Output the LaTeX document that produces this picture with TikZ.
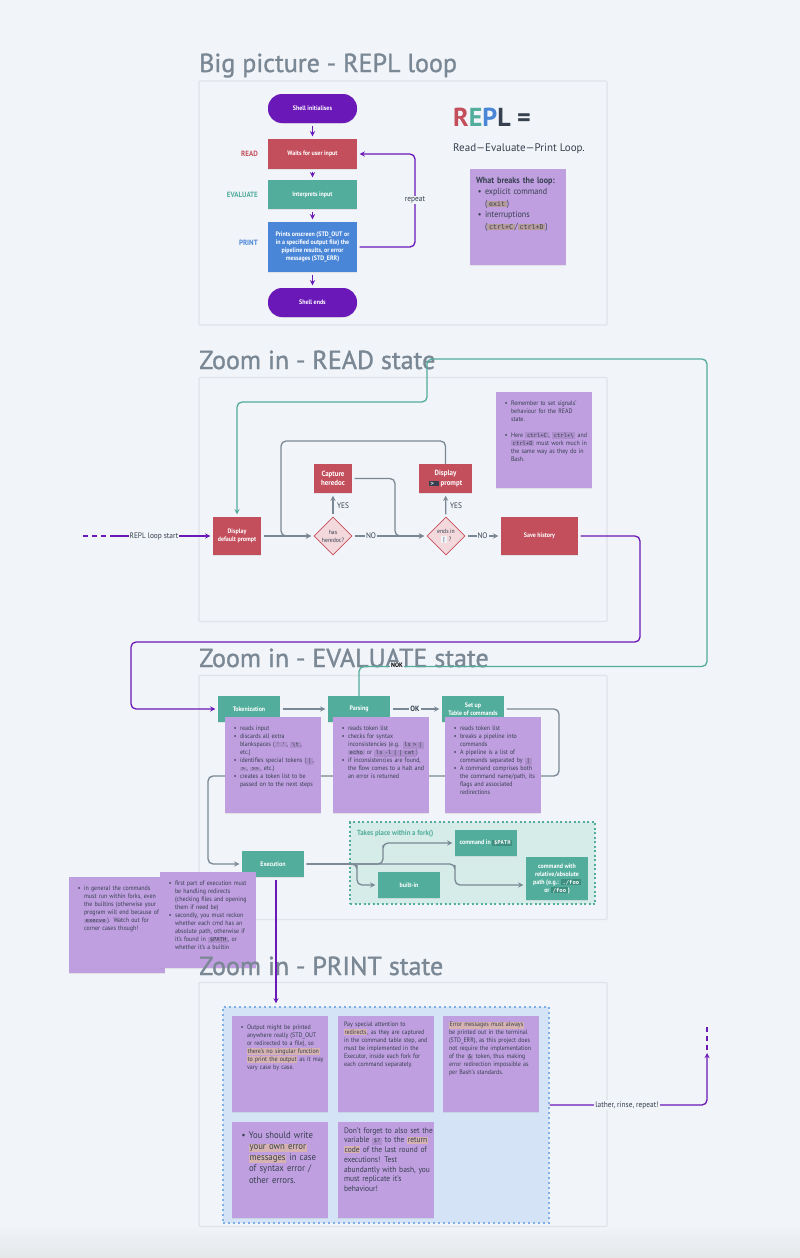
\documentclass[tikz,border=0pt]{standalone}
\usepackage{fontspec}
\setmainfont{PT Sans}[FakeStretch=0.92]
\setmonofont{DejaVu Sans Mono}
\newfontfamily\titlefont{PT Sans}[FakeBold=1.2]
\newfontfamily\widefont{PT Sans}
\usetikzlibrary{shapes.geometric, arrows.meta, positioning, shadows}
\definecolor{bgcol}{HTML}{F1F4F8}
\definecolor{framecol}{HTML}{DFE3EA}
\definecolor{titlecol}{HTML}{7A8794}
\definecolor{inkcol}{HTML}{36404F}
\definecolor{redcol}{HTML}{C44F5C}
\definecolor{pinkcol}{HTML}{F3D8DC}
\definecolor{tealcol}{HTML}{52AD9C}
\definecolor{bluecol}{HTML}{4A86D8}
\definecolor{violetcol}{HTML}{6A18B8}
\definecolor{stickycol}{HTML}{BF9FE0}
\definecolor{chipcol}{HTML}{AC8FCB}
\definecolor{warmcol}{HTML}{B79C9C}
\definecolor{hlcol}{HTML}{D6B3B0}
\definecolor{darkchip}{HTML}{3F8F80}
\definecolor{forkcol}{HTML}{D6ECE8}
\definecolor{printcol}{HTML}{D4E3F5}
\definecolor{printedge}{HTML}{7FAEE8}
\definecolor{bottomcol}{HTML}{E4E7EA}
\tikzstyle{panel} = [rectangle, draw=framecol, line width=1.2pt, fill=bgcol, rounded corners=1pt, minimum width=408pt, minimum height=244pt, inner sep=0pt]
\tikzstyle{heading} = [anchor=base west, inner sep=0pt, text=titlecol, font=\fontsize{26}{26}\titlefont]
\tikzstyle{block} = [rectangle, text=white, text centered, inner sep=0pt, font=\fontsize{6.5}{8}\selectfont\bfseries, drop shadow={opacity=0.15, shadow xshift=0pt, shadow yshift=-0.8pt}]
\tikzstyle{terminal} = [block, fill=violetcol, rounded corners=14pt, minimum width=89pt, minimum height=29pt]
\tikzstyle{redblock} = [block, fill=redcol]
\tikzstyle{tealblock} = [block, fill=tealcol, minimum width=62pt, minimum height=26pt]
\tikzstyle{check} = [diamond, aspect=1, draw=redcol, fill=pinkcol, line width=0.7pt, inner sep=0pt, minimum width=38pt, minimum height=38pt, text=inkcol, text centered, font=\fontsize{6.2}{8}\selectfont]
\tikzstyle{sticky} = [rectangle, fill=stickycol, minimum width=96pt, minimum height=96pt, inner sep=0pt, drop shadow={opacity=0.15, shadow xshift=0pt, shadow yshift=-0.8pt}]
\tikzstyle{stickytext} = [anchor=north west, inner sep=0pt, text width=110pt, align=left, text=inkcol, xshift=6pt, yshift=-5.5pt, font=\fontsize{6.5}{8}\selectfont]
\tikzstyle{sidelabel} = [anchor=east, inner sep=0pt, font=\fontsize{7.6}{8}\selectfont\bfseries]
\tikzstyle{linelabel} = [fill=bgcol, inner sep=1pt, text=inkcol, font=\fontsize{8}{8}\selectfont]
\tikzstyle{arrow} = [line width=1.3pt, draw=titlecol, ->, >=stealth, shorten <=2.5pt, shorten >=2.5pt, rounded corners=5pt]
\tikzstyle{purplearrow} = [arrow, draw=violetcol]
\tikzstyle{tealarrow} = [arrow, draw=tealcol]
\tikzstyle{dashline} = [violetcol, line width=1.3pt, dash pattern=on 5pt off 4pt]
\newcommand{\chipsize}{5.5}
\newcommand{\codechip}[2][chipcol]{{\setlength{\fboxsep}{0.8pt}\colorbox{#1}{\ttfamily\fontsize{\chipsize}{5}\selectfont\,#2\,}}}
\newcommand{\marked}[1]{{\setlength{\fboxsep}{0.6pt}\colorbox{hlcol}{#1}}}
\newcommand{\bulleted}[1]{\par\noindent\hangindent=9pt\hangafter=1\hbox to 9pt{\hfil\textbullet\hspace{3.5pt}}#1\par}

\begin{document}
\begin{tikzpicture}[x=1pt, y=-1pt, node distance=40pt]
    \useasboundingbox (0,0) rectangle (800,1258);
    \fill [bgcol] (0,0) rectangle (800,1258);
    \shade [top color=bgcol, bottom color=bottomcol] (0,1225) rectangle (800,1258);

    % Frames and headings
    \node (bigframe) [panel] at (403,203) {};
    \node (readframe) [panel, below of=bigframe, yshift=-256.5pt] {};
    \node (evalframe) [panel, below of=readframe, yshift=-258pt] {};
    \node (printframe) [panel, below of=evalframe, yshift=-267pt] {};
    \node (bigtitle) [heading] at (199,72) {Big picture - REPL loop};
    \node (readtitle) [heading] at (199,369) {Zoom in - READ state};
    \node (evaltitle) [heading] at (199,667) {Zoom in - EVALUATE state};

    % Big picture
    \node (init) [terminal] at (312.5,108.5) {Shell initialises};
    \node (wait) [redblock, minimum width=89pt, minimum height=30pt, below of=init, yshift=-5.5pt] {Waits for user input};
    \node (interpret) [block, fill=tealcol, minimum width=89pt, minimum height=29pt, below of=wait, yshift=-0.5pt] {Interprets input};
    \node (show) [block, fill=bluecol, minimum width=89pt, minimum height=50pt, below of=interpret, yshift=-12.5pt, align=center] {Prints onscreen (STD\_OUT or\\in a specified output file) the\\pipeline results, or error\\messages (STD\_ERR)};
    \node (shellend) [terminal, below of=show, yshift=-15.5pt] {Shell ends};
    \node (readtag) [sidelabel, text=redcol] at (258,153.5) {READ};
    \node (evaltag) [sidelabel, text=tealcol] at (258,194.5) {EVALUATE};
    \node (printtag) [sidelabel, text=bluecol] at (258,243) {PRINT};
    \draw [purplearrow] (init) -- (wait);
    \draw [purplearrow] (wait) -- (interpret);
    \draw [purplearrow] (interpret) -- (show);
    \draw [purplearrow] (show) -- (shellend);
    \coordinate (repeatbend) at (415,200);
    \draw [purplearrow] (show.east) -| (repeatbend) |- (wait.east);
    \node (repeatlabel) [linelabel] at (repeatbend) {repeat};

    \node (replword) [anchor=base west, inner sep=0pt, font=\fontsize{26}{26}\widefont\bfseries] at (453,126) {\textcolor{redcol}{R}\textcolor{tealcol}{E}\textcolor{bluecol}{P}\textcolor{inkcol}{L =}};
    \node (replmeaning) [anchor=base west, inner sep=0pt, text=inkcol, font=\fontsize{11}{12}\widefont] at (453,151) {Read—Evaluate—Print Loop.};
    \node (breaknote) [sticky] at (518,217) {};
    \node (breaktext) [stickytext, yshift=-2.5pt, font=\fontsize{8.8}{11.6}\selectfont\renewcommand{\chipsize}{6.6}] at (breaknote.north west) {\textbf{What breaks the loop:}
      \bulleted{explicit command\newline (\codechip[warmcol]{exit})}
      \bulleted{interruptions\newline (\codechip[warmcol]{ctrl+C}/\codechip[warmcol]{ctrl+D})}};

    % READ state
    \node (prompt) [redblock, minimum width=48pt, minimum height=38pt, align=center] at (237,536) {Display\\default prompt};
    \node (has) [check, right of=prompt, xshift=56pt, align=center] {has\\heredoc?};
    \node (capture) [redblock, minimum width=38pt, minimum height=29pt, above of=has, yshift=17.5pt, align=center, font=\fontsize{7.5}{9.5}\selectfont\bfseries] {Capture\\heredoc};
    \node (ends) [check, right of=has, xshift=73pt, align=center] {ends in\\\codechip[bgcol]{|} ?};
    \node (more) [redblock, minimum width=53pt, minimum height=29pt, above of=ends, xshift=-0.5pt, yshift=17.5pt, align=center, font=\fontsize{7.5}{9.5}\selectfont\bfseries] {Display\\\codechip[inkcol]{\textcolor{white}{>}\ } prompt};
    \node (save) [redblock, minimum width=77pt, minimum height=38pt, right of=ends, xshift=53.5pt] {Save history};
    \coordinate (loopstart) at (83,536);
    \coordinate (loopsolid) at (115,536);
    \coordinate (loopcorner) at (281,441);
    \coordinate (capturebend) at (395,500);
    \draw [dashline] (loopstart) -- (loopsolid);
    \draw [purplearrow, shorten <=0pt] (loopsolid) -- (prompt.west);
    \node (startlabel) [linelabel] at (154,536) {REPL loop start};
    \draw [arrow] (prompt) -- (has);
    \draw [arrow] (has) -- (capture);
    \draw [arrow] (has) -- (ends);
    \draw [arrow] (ends) -- (more);
    \draw [arrow] (ends) -- (save);
    \draw [arrow, shorten <=0pt] (more.north) |- (loopcorner) |- (has.west);
    \draw [arrow] (capture.east) -| (capturebend) |- (ends.west);
    \node (yesone) [linelabel, fill=none] at (343,506) {YES};
    \node (yestwo) [linelabel, fill=none] at (456,506) {YES};
    \node (noone) [linelabel] at (371,536) {NO};
    \node (notwo) [linelabel] at (482.5,536) {NO};
    \node (signalnote) [sticky] at (544,440) {};
    \node (signaltext) [stickytext] at (signalnote.north west) {
      \bulleted{Remember to set signals'\newline behaviour for the READ\newline state.}
      \vspace{8pt}
      \bulleted{Here \codechip{ctrl+C}, \codechip{ctrl+\textbackslash} and\newline \codechip{ctrl+D} must work much in\newline the same way as they do in\newline Bash.}};

    % EVALUATE state
    \node (token) [tealblock] at (249,709) {Tokenization};
    \node (parsing) [tealblock, right of=token, xshift=70pt] {Parsing};
    \node (setup) [tealblock, right of=parsing, xshift=74pt, align=center] {Set up\\Table of commands};
    \node (exec) [tealblock] at (273,864) {Execution};
    \node (forkbox) [rectangle, draw=tealcol, dash pattern=on 2pt off 2.5pt, line width=1.2pt, fill=forkcol, minimum width=245pt, minimum height=82pt, inner sep=0pt] at (472.5,863) {};
    \node (forktag) [anchor=west, inner sep=0pt, text=tealcol, font=\fontsize{7.4}{8}\selectfont\bfseries] at (357,834) {Takes place within a fork()};
    \node (cmdpath) [tealblock] at (486,843) {command in \codechip[darkchip]{\textcolor{white}{\$PATH}}};
    \node (builtin) [tealblock] at (409,885) {built-in};
    \node (cmdabs) [tealblock, minimum height=43pt, align=center] at (557,878.5) {command with\\relative/absolute\\path (e.g.: \codechip[darkchip]{\textcolor{white}{./foo}}\\or \codechip[darkchip]{\textcolor{white}{/foo}})};

    \coordinate (savebend) at (640,642);
    \coordinate (tokenbend) at (131,642);
    \coordinate (noknear) at (707,666.5);
    \coordinate (noktop) at (427,359);
    \coordinate (noklow) at (237,402);
    \coordinate (setupbend) at (559,776);
    \coordinate (execbend) at (208,776);
    \coordinate (forkup) at (383,850);
    \coordinate (forklow) at (357,870);
    \coordinate (forkmid) at (455,870);
    \draw [purplearrow] (save.east) -| (savebend) -- (tokenbend) |- (token.west);
    \draw [tealarrow, shorten <=0pt] (parsing.north) |- (noknear) |- (noktop) |- (noklow) -- (prompt.north);
    \node (noklabel) [linelabel, text=black, font=\fontsize{6.5}{8}\selectfont\bfseries] at (397,665.5) {NOK};
    \draw [arrow] (token) -- (parsing);
    \draw [arrow] (parsing) -- (setup);
    \node (oklabel) [linelabel, font=\fontsize{7.6}{8}\selectfont\bfseries] at (415,709) {OK};
    \draw [arrow] (setup.east) -| (setupbend) -- (execbend) |- (exec.west);
    \draw [arrow] (exec.east) -| (forkup) |- (cmdpath.west);
    \draw [arrow] (exec.east) -| (forklow) |- (builtin.west);
    \draw [arrow] (exec.east) -| (forkmid) |- (cmdabs.west |- builtin.west);

    \node (tokennote) [sticky] at (273,765) {};
    \node (tokentext) [stickytext] at (tokennote.north west) {
      \bulleted{reads input}
      \bulleted{discards all extra\newline blankspaces (\codechip{' '}, \codechip{\textbackslash t},\newline etc.)}
      \bulleted{identifies special tokens (\codechip{|},\newline \codechip{>}, \codechip{>>}, etc.)}
      \bulleted{creates a token list to be\newline passed on to the next steps}};
    \node (parsenote) [sticky, right of=tokennote, xshift=68pt] {};
    \node (parsetext) [stickytext] at (parsenote.north west) {
      \bulleted{reads token list}
      \bulleted{checks for syntax\newline inconsistencies (e.g. \codechip{ls > |}\newline \codechip{echo} or \codechip{ls -l | | cat})}
      \bulleted{if inconsistencies are found,\newline the flow comes to a halt and\newline an error is returned}};
    \node (setupnote) [sticky, right of=parsenote, xshift=72pt] {};
    \node (setuptext) [stickytext] at (setupnote.north west) {
      \bulleted{reads token list}
      \bulleted{breaks a pipeline into\newline commands}
      \bulleted{A pipeline is a list of\newline commands separated by \codechip{|}}
      \bulleted{A command comprises both\newline the command name/path, its\newline flags and associated\newline redirections}};
    \node (forknote) [sticky] at (117,925) {};
    \node (forktext) [stickytext] at (forknote.north west) {
      \bulleted{in general the commands\newline must run within forks, even\newline the builtins (otherwise your\newline program will end because of\newline \codechip{execve}). Watch out for\newline corner cases though!}};
    \node (execnote) [sticky, right of=forknote, xshift=51pt, yshift=5pt] {};
    \node (exectext) [stickytext] at (execnote.north west) {
      \bulleted{first part of execution must\newline be handling redirects\newline (checking files and opening\newline them if need be)}
      \bulleted{secondly, you must reckon\newline whether each cmd has an\newline absolute path, otherwise if\newline it's found in \codechip{\$PATH}, or\newline whether it's a builtin}};

    % PRINT state
    \node (printtitle) [heading] at (199,975) {Zoom in - PRINT state};
    \node (printbox) [rectangle, draw=printedge, dash pattern=on 2pt off 3pt, line width=1.2pt, fill=printcol, minimum width=326pt, minimum height=216pt, inner sep=0pt] at (386,1115) {};
    \draw [purplearrow, shorten >=3pt] ([xshift=3pt]exec.south) -- ([xshift=3pt]exec.south |- printbox.north);
    \node (outnote) [sticky] at (280,1064) {};
    \node (outtext) [stickytext] at (outnote.north west) {
      \bulleted{Output might be printed\newline anywhere really (STD\_OUT\newline or redirected to a file), so\newline \marked{there's no singular function}\newline \marked{to print the output} as it may\newline vary case by case.}};
    \node (redirnote) [sticky, right of=outnote, xshift=66pt] {};
    \node (redirtext) [stickytext] at (redirnote.north west) {Pay special attention to\newline \marked{redirects}, as they are captured\newline in the command table step, and\newline must be implemented in the\newline Executor, inside each fork for\newline each command separately.};
    \node (errnote) [sticky, right of=redirnote, xshift=65pt] {};
    \node (errtext) [stickytext] at (errnote.north west) {\marked{Error messages must always}\newline be printed out in the terminal\newline (STD\_ERR), as this project does\newline not require the implementation\newline of the \codechip{\&} token, thus making\newline error redirection impossible as\newline per Bash's standards.};
    \node (ownnote) [sticky, below of=outnote, yshift=-66pt] {};
    \node (owntext) [stickytext, xshift=2pt, yshift=0.5pt, font=\fontsize{9.5}{11.2}\selectfont] at (ownnote.north west) {
      \bulleted{You should write\newline \marked{your own error}\newline \marked{messages} in case\newline of syntax error /\newline other errors.}};
    \node (codenote) [sticky, right of=ownnote, xshift=66pt] {};
    \node (codetext) [stickytext, font=\fontsize{8.1}{9.7}\selectfont] at (codenote.north west) {Don't forget to also set the\newline variable \codechip{\$?} to the \marked{return}\newline \marked{code} of the last round of\newline executions! Test\newline abundantly with bash, you\newline must replicate it's\newline behaviour!};
    \coordinate (latherbend) at (707,1105);
    \coordinate (latherhead) at (707,1053);
    \coordinate (latherend) at (707,1026);
    \draw [purplearrow, shorten <=0pt, shorten >=0pt] (printbox.east |- latherbend) -| (latherhead);
    \draw [dashline] (latherhead) ++(0,-3) -- (latherend);
    \node (latherlabel) [linelabel] at (627,1105) {lather, rinse, repeat!};

\end{tikzpicture}
\end{document}
